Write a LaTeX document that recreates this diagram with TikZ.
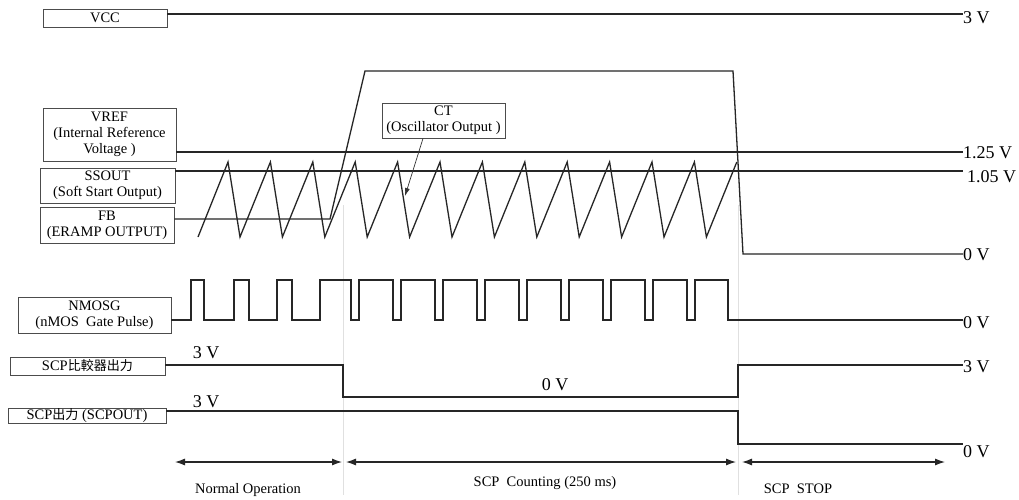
\documentclass[tikz,border=0pt]{standalone}
\usepackage{fontspec}
\setmainfont{Liberation Serif}
\newfontfamily\cjk[Scale=0.9]{Noto Sans CJK TC}
\usetikzlibrary{arrows.meta}
\begin{document}
\begin{tikzpicture}[x=1pt,y=-1pt,
  lbox/.style={draw=black!70, line width=0.9pt, align=center, inner sep=0pt,
    font=\fontsize{14.5}{16}\selectfont},
  wave/.style={draw=black!85, line width=1.3pt, line join=miter},
  vlab/.style={anchor=west, inner sep=0pt, font=\fontsize{18}{20}\selectfont},
  mlab/.style={inner sep=0pt, font=\fontsize{18}{20}\selectfont},
  phase/.style={inner sep=0pt, font=\fontsize{14.5}{16}\selectfont},
  span/.style={draw=black!85, line width=1.1pt, {Latex[length=10pt,width=7pt]}-{Latex[length=10pt,width=7pt]}},
  guide/.style={draw=black!12, line width=0.8pt}]
\useasboundingbox (0,0) rectangle (1019,500);
\fill[white] (0,0) rectangle (1019,500);

% guides
\draw[guide] (343,205) -- (343,495);
\draw[guide] (738,205) -- (738,495);

% boxes
\node[lbox, minimum width=124pt, minimum height=18pt] (vcc) at (105,18) {VCC};
\node[lbox, minimum width=133pt, minimum height=53pt] (vref) at (109.5,134.5) {VREF\\(Internal Reference\\Voltage )};
\node[lbox, minimum width=135pt, minimum height=35pt] (ssout) at (107.5,185.5) {SSOUT\\(Soft Start Output)};
\node[lbox, minimum width=134pt, minimum height=36pt] (fb) at (107,225) {FB\\(ERAMP OUTPUT)};
\node[lbox, minimum width=123pt, minimum height=35pt] (ct) at (443.5,120.5) {CT\\(Oscillator Output )};
\node[lbox, minimum width=153pt, minimum height=36pt] (nmos) at (94.5,315) {NMOSG\\(nMOS\ \ Gate Pulse)};
\node[lbox, minimum width=155pt, minimum height=18pt] (scpc) at (87.5,366) {SCP{\cjk 比較器出力}};
\node[lbox, minimum width=158pt, minimum height=15pt] (scpo) at (87,416) {SCP{\cjk 出力} (SCPOUT)};

% right-hand voltage labels
\node[vlab] (vccv) at (963,18) {3 V};
\node[vlab] (vrefv) at (963,153) {1.25 V};
\node[vlab] (ssv) at (967,177) {1.05 V};
\node[vlab] (fbv) at (963,255) {0 V};
\node[vlab] (nmv) at (963,323) {0 V};
\node[vlab] (scpcv) at (963,367) {3 V};
\node[vlab] (scpov) at (963,452) {0 V};

% in-line voltage labels
\node[mlab] (c3) at (206,353) {3 V};
\node[mlab] (c0) at (555,385) {0 V};
\node[mlab] (o3) at (206,402) {3 V};

% VCC
\draw[wave] (vcc.east |- 0,14) -- (vccv.west |- 0,14);
% VREF and SSOUT
\draw[wave] (vref.east |- 0,152) -- (vrefv.west |- 0,152);
\draw[wave] (ssout.east |- 0,171) -- (963,171);
% FB
\draw[wave] (fb.east |- 0,219) -- (330,219) -- (365,71) -- (733,71) -- (743,254) -- (fbv.west |- 0,254);
% CT sawtooth
\draw[wave] (198,237)
  \foreach \k in {0,...,11} { -- ({228+42.4*\k},162) -- ({240+42.4*\k},237) }
  -- (736.8,162);
% CT pointer
\draw[draw=black!80, line width=0.7pt, -{Latex[length=8pt,width=5pt]}] (ct.south -| 423,0) -- (405,196);
% NMOSG
\draw[wave] (nmos.east |- 0,320) -- (191,320) -- (191,280) -- (204,280) -- (204,320)
  -- (234,320) -- (234,280) -- (249,280) -- (249,320)
  -- (277,320) -- (277,280) -- (292,280) -- (292,320)
  -- (320,320) -- (320,280) -- (351,280) -- (351,320) -- (359,320) -- (359,280)
  \foreach \k in {0,...,7} { -- ({393+42*\k},280) -- ({393+42*\k},320) -- ({401+42*\k},320) -- ({401+42*\k},280) }
  -- (728,280) -- (728,320) -- (nmv.west |- 0,320);
% SCP comparator output
\draw[wave] (scpc.east |- 0,365) -- (343,365) -- (343,397) -- (738,397) -- (738,365) -- (scpcv.west |- 0,365);
% SCP output
\draw[wave] (scpo.east |- 0,411) -- (738,411) -- (738,444) -- (scpov.west |- 0,444);

% phase spans
\coordinate (p1) at (175,462);
\coordinate (p2) at (342,462);
\coordinate (p3) at (346,462);
\coordinate (p4) at (736,462);
\coordinate (p5) at (742,462);
\coordinate (p6) at (945,462);
\draw[span] (p1) -- (p2);
\draw[span] (p3) -- (p4);
\draw[span] (p5) -- (p6);
\node[phase] (n1) at (248,490) {Normal Operation};
\node[phase] (n2) at (545,483) {SCP\ \ Counting (250 ms)};
\node[phase] (n3) at (798,489) {SCP\ \ STOP};
\end{tikzpicture}
\end{document}
